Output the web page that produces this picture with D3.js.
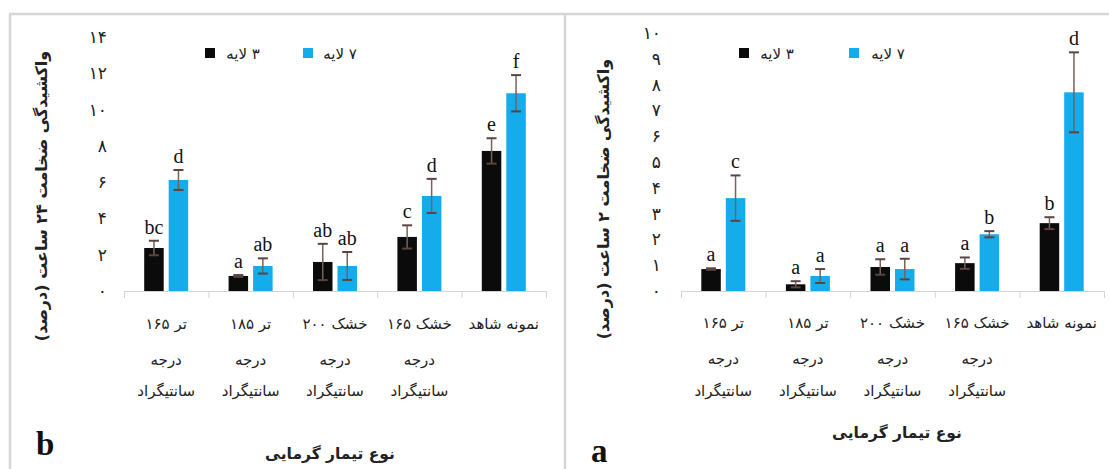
<!DOCTYPE html>
<html>
<head>
<meta charset="utf-8">
<script src="https://cdn.jsdelivr.net/npm/d3@7"></script>
<style>
  html, body { margin: 0; padding: 0; background: #fff; }
  svg { display: block; }
  .fa { font-family: "DejaVu Sans", sans-serif; }
  .letter { font-family: "Liberation Serif", "Times New Roman", serif; }
</style>
</head>
<body>
<svg id="chart" width="1109" height="469"></svg>
<script>
// Heat-treatment categories (each label wrapped over up to three lines)
const categories = [
  ["تر ۱۶۵", "درجه", "سانتیگراد"],
  ["تر ۱۸۵", "درجه", "سانتیگراد"],
  ["خشک ۲۰۰", "درجه", "سانتیگراد"],
  ["خشک ۱۶۵", "درجه", "سانتیگراد"],
  ["نمونه شاهد"]
];
const seriesNames = ["۳ لایه", "۷ لایه"];
const seriesColors = ["#0b0b0b", "#14acea"];
const xTitle = "نوع تیمار گرمایی";

// Panel b: thickness swelling after 24 h (%)
const swell24Three = [2.37, 0.83, 1.6, 2.98, 7.72];
const swell24Seven = [6.12, 1.38, 1.38, 5.24, 10.9];
const err24Three = [0.4, 0.05, 1.0, 0.64, 0.7];
const err24Seven = [0.55, 0.42, 0.77, 0.94, 1.0];
const letters24Three = ["bc", "a", "ab", "c", "e"];
const letters24Seven = ["d", "ab", "ab", "d", "f"];
const ticks24 = [0, 2, 4, 6, 8, 10, 12, 14];
const yTitle24 = "واکشیدگی ضخامت ۲۴ ساعت (درصد)";

// Panel a: thickness swelling after 2 h (%)
const swell2Three = [0.85, 0.26, 0.93, 1.08, 2.63];
const swell2Seven = [3.6, 0.58, 0.85, 2.2, 7.7];
const err2Three = [0.03, 0.12, 0.3, 0.22, 0.23];
const err2Seven = [0.88, 0.27, 0.4, 0.12, 1.55];
const letters2Three = ["a", "a", "a", "a", "b"];
const letters2Seven = ["c", "a", "a", "b", "d"];
const ticks2 = [0, 1, 2, 3, 4, 5, 6, 7, 8, 9, 10];
const yTitle2 = "واکشیدگی ضخامت ۲ ساعت (درصد)";

const faDigits = "۰۱۲۳۴۵۶۷۸۹";
const toFa = n => String(n).replace(/\d/g, d => faDigits[d]);

const svg = d3.select("#chart");

// panel frames
const frame = svg.append("g").attr("stroke", "#d6d6d6").attr("stroke-width", 2.5).attr("fill", "none");
frame.append("line").attr("x1", 9).attr("x2", 1109).attr("y1", 14).attr("y2", 14);
frame.append("line").attr("x1", 10).attr("x2", 10).attr("y1", 14).attr("y2", 469);
frame.append("line").attr("x1", 565).attr("x2", 565).attr("y1", 14).attr("y2", 469);

function drawPanel(p) {
  const g = svg.append("g");
  const y = d3.scaleLinear().domain([0, p.yMax]).range([p.y0, p.yTop]);
  const x = d3.scaleBand().domain(d3.range(categories.length)).range([p.x0, p.x1]);
  const groupW = 44;
  const xs = d3.scaleBand().domain([0, 1]).range([0, groupW]).paddingInner(5 / 24.5);
  const off = (x.bandwidth() - groupW) / 2;

  // value axis: labels only
  const yAxis = g.append("g")
    .attr("transform", `translate(${p.x0},0)`)
    .call(d3.axisLeft(y).tickValues(p.ticks).tickFormat(toFa).tickSize(0).tickPadding(p.tickPad));
  yAxis.select(".domain").remove();
  yAxis.selectAll("text").attr("class", "fa").attr("font-size", 17).attr("fill", "#222");

  // category axis with boundary ticks
  const xb = d3.scaleLinear().domain([0, categories.length]).range([p.x0, p.x1]);
  const xAxis = g.append("g")
    .attr("transform", `translate(0,${p.y0})`)
    .call(d3.axisBottom(xb).tickValues(d3.range(categories.length + 1)).tickFormat("").tickSize(7).tickSizeOuter(0));
  xAxis.selectAll("line, path").attr("stroke", "#d4d4d4");

  const series = [p.three, p.seven];
  const errs = [p.errThree, p.errSeven];
  const letters = [p.lettersThree, p.lettersSeven];

  series.forEach((vals, s) => {
    const cx = i => x(i) + off + xs(s) + xs.bandwidth() / 2;
    g.append("g").selectAll("rect").data(vals).join("rect")
      .attr("x", (d, i) => x(i) + off + xs(s))
      .attr("width", xs.bandwidth())
      .attr("y", d => y(d))
      .attr("height", d => y(0) - y(d))
      .attr("fill", seriesColors[s]);

    const eb = g.append("g").selectAll("g").data(vals).join("g");
    eb.append("line")
      .attr("x1", (d, i) => cx(i)).attr("x2", (d, i) => cx(i))
      .attr("y1", (d, i) => y(d + errs[s][i])).attr("y2", (d, i) => y(d - errs[s][i]))
      .attr("stroke", "#76625e").attr("stroke-width", 1.5);
    [1, -1].forEach(sign => {
      eb.append("line")
        .attr("x1", (d, i) => cx(i) - 5).attr("x2", (d, i) => cx(i) + 5)
        .attr("y1", (d, i) => y(d + sign * errs[s][i])).attr("y2", (d, i) => y(d + sign * errs[s][i]))
        .attr("stroke", "#5d4440").attr("stroke-width", 2);
    });

    g.append("g").selectAll("text").data(vals).join("text")
      .attr("class", "letter")
      .attr("x", (d, i) => cx(i))
      .attr("y", (d, i) => y(d + errs[s][i]) - 7)
      .attr("text-anchor", "middle")
      .attr("font-size", 20)
      .attr("fill", "#111")
      .text((d, i) => letters[s][i]);
  });

  // category labels
  categories.forEach((lines, i) => {
    const t = g.append("text").attr("class", "fa")
      .attr("direction", "rtl")
      .attr("text-anchor", "middle")
      .attr("font-size", 15)
      .attr("fill", "#222");
    lines.forEach((line, k) => {
      t.append("tspan")
        .attr("x", x(i) + x.bandwidth() / 2)
        .attr("y", p.labelY[k])
        .text(line);
    });
  });

  // legend
  seriesNames.forEach((name, s) => {
    g.append("rect").attr("x", p.legendX[s]).attr("y", 48).attr("width", 10).attr("height", 10)
      .attr("fill", seriesColors[s]);
    g.append("text").attr("class", "fa")
      .attr("x", p.legendTextX[s]).attr("y", 59)
      .attr("direction", "rtl").attr("text-anchor", "middle")
      .attr("font-size", 15).attr("fill", "#222")
      .text(name);
  });

  // axis titles
  g.append("text").attr("class", "fa")
    .attr("transform", `translate(${p.yTitleX},${p.yTitleY}) rotate(-90)`)
    .attr("direction", "rtl").attr("text-anchor", "middle")
    .attr("font-size", 16).attr("font-weight", "bold").attr("fill", "#222")
    .text(p.yTitle);
  g.append("text").attr("class", "fa")
    .attr("x", p.xTitleX).attr("y", p.xTitleY)
    .attr("direction", "rtl").attr("text-anchor", "middle")
    .attr("font-size", 15.5).attr("font-weight", "bold").attr("fill", "#222")
    .text(xTitle);

  // panel letter
  g.append("text").attr("class", "letter")
    .attr("x", p.tagX).attr("y", p.tagY)
    .attr("font-size", 33).attr("font-weight", "bold").attr("fill", "#111")
    .text(p.tag);
}

drawPanel({
  three: swell24Three, seven: swell24Seven,
  errThree: err24Three, errSeven: err24Seven,
  lettersThree: letters24Three, lettersSeven: letters24Seven,
  ticks: ticks24, yMax: 14, yTitle: yTitle24, tag: "b",
  x0: 124, x1: 546, y0: 291, yTop: 37, tickPad: 17,
  labelY: [329, 365, 396],
  legendX: [205, 303], legendTextX: [243, 340],
  yTitleX: 47, yTitleY: 196,
  xTitleX: 330, xTitleY: 459,
  tagX: 36, tagY: 455
});

drawPanel({
  three: swell2Three, seven: swell2Seven,
  errThree: err2Three, errSeven: err2Seven,
  lettersThree: letters2Three, lettersSeven: letters2Seven,
  ticks: ticks2, yMax: 10, yTitle: yTitle2, tag: "a",
  x0: 681, x1: 1104, y0: 291, yTop: 33, tickPad: 20,
  labelY: [328, 364, 396],
  legendX: [739, 849], legendTextX: [777, 888],
  yTitleX: 609, yTitleY: 199,
  xTitleX: 897, xTitleY: 438,
  tagX: 591, tagY: 462
});
</script>
</body>
</html>
